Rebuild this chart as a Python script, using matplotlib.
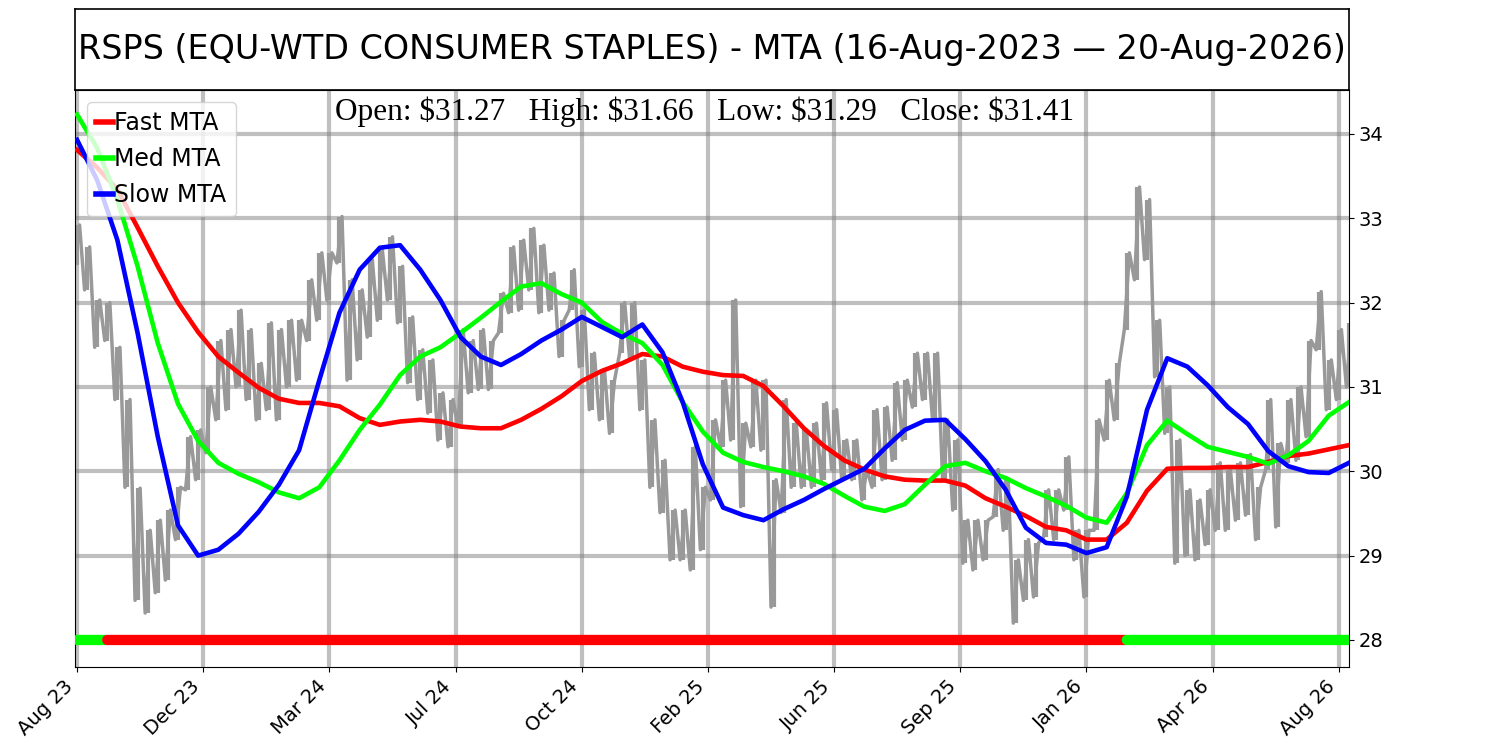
import numpy as np
import matplotlib.pyplot as plt

title = "RSPS (EQU-WTD CONSUMER STAPLES) - MTA (16-Aug-2023 \u2014 20-Aug-2026)"
ohlc_text = "Open: \\$31.27   High: \\$31.66   Low: \\$31.29   Close: \\$31.41"

n_bars = 757
tick_pos = [0, 75, 150, 225, 300, 375, 450, 525, 600, 675, 750]
tick_labels = ["Aug 23", "Dec 23", "Mar 24", "Jul 24", "Oct 24", "Feb 25",
               "Jun 25", "Sep 25", "Jan 26", "Apr 26", "Aug 26"]

# price range, one sample per 6 bars
price_step = 6
price_high = [32.92, 32.66, 32.03, 32.00, 31.47, 30.85, 29.80, 29.30, 29.42, 29.54,
              29.81, 30.41, 30.49, 31.00, 31.55, 31.68, 31.91, 31.68, 31.28, 31.76,
              31.68, 31.79, 31.79, 32.27, 32.59, 32.59, 33.02, 32.27, 32.15, 32.51,
              32.62, 32.78, 32.43, 31.83, 31.44, 31.32, 30.93, 30.85, 31.68, 31.55,
              31.68, 31.55, 32.11, 32.66, 32.74, 32.88, 32.68, 32.35, 31.79, 32.39,
              31.91, 31.40, 31.20, 31.08, 32.00, 32.00, 31.32, 30.61, 30.13, 29.54,
              29.54, 30.29, 29.81, 30.61, 31.08, 32.03, 30.57, 31.08, 31.08, 29.90,
              30.85, 30.57, 30.49, 30.57, 30.81, 30.73, 30.37, 30.37, 30.02, 30.73,
              30.76, 31.05, 31.08, 31.40, 31.40, 31.40, 30.61, 30.37, 29.42, 29.42,
              29.42, 30.02, 29.90, 28.95, 29.19, 29.15, 29.78, 29.78, 30.17, 29.30,
              29.30, 30.61, 31.08, 31.28, 32.59, 33.37, 33.22, 31.79, 31.00, 30.37,
              29.78, 29.66, 29.78, 30.10, 30.02, 30.10, 30.20, 29.81, 30.85, 30.33,
              30.85, 31.00, 31.55, 32.13, 31.32, 31.68, 31.76]
price_low = [32.45, 32.15, 31.47, 31.55, 30.85, 29.81, 28.47, 28.32, 28.56, 28.71,
             29.19, 29.78, 29.90, 30.22, 30.61, 30.73, 31.00, 30.85, 30.61, 30.73,
             30.61, 31.00, 31.08, 31.55, 31.79, 32.03, 32.47, 31.08, 31.32, 31.59,
             31.79, 32.03, 31.76, 31.05, 30.85, 30.69, 30.37, 30.29, 30.53, 30.93,
             30.97, 30.97, 31.64, 31.88, 31.91, 32.15, 31.88, 31.91, 31.36, 31.91,
             31.24, 30.73, 30.61, 30.45, 31.40, 31.32, 30.73, 29.81, 29.51, 28.95,
             28.95, 28.83, 29.07, 29.66, 30.29, 30.37, 29.58, 30.29, 30.25, 28.39,
             29.51, 29.81, 29.81, 29.81, 29.90, 30.02, 29.90, 29.90, 29.66, 29.81,
             29.90, 30.13, 30.37, 30.76, 30.85, 30.61, 29.90, 29.54, 28.91, 28.83,
             28.95, 29.46, 29.30, 28.20, 28.47, 28.51, 29.22, 29.19, 29.54, 28.95,
             28.51, 29.30, 30.37, 30.61, 31.68, 32.27, 32.51, 31.12, 30.45, 28.91,
             29.00, 28.95, 29.13, 29.30, 29.30, 29.42, 29.48, 29.19, 30.02, 29.34,
             30.10, 30.13, 30.41, 31.44, 30.73, 30.85, 31.00]

# MTA lines, one sample per 12 bars
mta_step = 12
fast_mta = [33.81, 33.60, 33.34, 32.89, 32.43, 32.00, 31.65, 31.36, 31.17, 30.99,
            30.86, 30.81, 30.81, 30.77, 30.63, 30.55, 30.59, 30.61, 30.59, 30.53,
            30.51, 30.51, 30.61, 30.74, 30.89, 31.07, 31.19, 31.28, 31.39, 31.36,
            31.24, 31.18, 31.14, 31.13, 31.01, 30.77, 30.51, 30.30, 30.13, 30.02,
            29.94, 29.90, 29.89, 29.89, 29.83, 29.68, 29.58, 29.47, 29.34, 29.30,
            29.19, 29.19, 29.39, 29.77, 30.03, 30.04, 30.04, 30.05, 30.05, 30.11,
            30.18, 30.21, 30.26, 30.31]
med_mta = [34.23, 33.83, 33.22, 32.43, 31.52, 30.80, 30.36, 30.10, 29.97, 29.87,
           29.75, 29.68, 29.81, 30.13, 30.49, 30.79, 31.14, 31.36, 31.47, 31.64,
           31.82, 32.01, 32.19, 32.23, 32.10, 32.00, 31.77, 31.63, 31.52, 31.26,
           30.82, 30.47, 30.22, 30.11, 30.05, 30.00, 29.94, 29.85, 29.71, 29.58,
           29.53, 29.61, 29.84, 30.06, 30.10, 30.00, 29.92, 29.80, 29.70, 29.59,
           29.45, 29.39, 29.74, 30.31, 30.60, 30.44, 30.29, 30.23, 30.17, 30.09,
           30.19, 30.36, 30.66, 30.82]
slow_mta = [33.93, 33.45, 32.74, 31.64, 30.41, 29.36, 29.00, 29.07, 29.26, 29.52,
            29.84, 30.25, 31.08, 31.88, 32.39, 32.65, 32.68, 32.39, 32.03, 31.59,
            31.36, 31.26, 31.39, 31.55, 31.68, 31.83, 31.71, 31.59, 31.74, 31.41,
            30.82, 30.08, 29.57, 29.48, 29.42, 29.55, 29.66, 29.79, 29.91, 30.03,
            30.27, 30.49, 30.60, 30.61, 30.38, 30.12, 29.78, 29.33, 29.15, 29.13,
            29.03, 29.10, 29.70, 30.73, 31.34, 31.24, 31.02, 30.76, 30.56, 30.24,
            30.06, 29.99, 29.98, 30.10]

# regime strip at the bottom
regime_start = [0, 18, 624]
regime_color = ["#00ff00", "#ff0000", "#00ff00"]
regime_level = 28.0

fig = plt.figure(figsize=(15, 7.5), dpi=100)

# title box
tax = fig.add_axes([0.05, 0.88, 0.8493, 0.108])
tax.set_xticks([])
tax.set_yticks([])
for s in tax.spines.values():
    s.set_linewidth(1.2)
tax.text(0.5, 0.5, title, ha="center", va="center", fontsize=24,
         transform=tax.transAxes)

ax = fig.add_axes([0.05, 0.1107, 0.8493, 0.7693])
ax.set_axisbelow(True)
ax.grid(True, color="gray", alpha=0.5, lw=3)

# price bars: high/low strokes joined into a jagged trace
px = np.arange(len(price_high)) * price_step
ax.vlines(px, price_low, price_high, color="#999999", lw=3, zorder=2)
xs = np.column_stack([px - 1.5, px + 1.5]).ravel()
ys = np.column_stack([price_low, price_high]).ravel()
ax.plot(xs, ys, color="#999999", lw=2.5, zorder=2)

mx = np.arange(len(fast_mta)) * mta_step
ax.plot(mx, fast_mta, color="#ff0000", lw=3.3, label="Fast MTA", zorder=3)
ax.plot(mx, med_mta, color="#00ff00", lw=3.3, label="Med MTA", zorder=3)
ax.plot(mx, slow_mta, color="#0000ff", lw=3.3, label="Slow MTA", zorder=3)

bounds = regime_start + [n_bars]
bar_colors = []
for c, a, b in zip(regime_color, bounds[:-1], bounds[1:]):
    bar_colors += [c] * (b - a)
ax.scatter(np.arange(n_bars), np.full(n_bars, regime_level), c=bar_colors,
           s=55, marker="o", lw=0, zorder=4)

ax.text(0.494, 0.948, ohlc_text, transform=ax.transAxes, ha="center",
        va="baseline", fontsize=22.5, family="Liberation Serif")

ax.set_xlim(-1.2, 756)
ax.set_ylim(27.68, 34.52)
ax.set_xticks(tick_pos)
ax.set_xticklabels(tick_labels, rotation=45, ha="right")
ax.yaxis.tick_right()
ax.set_yticks([28, 29, 30, 31, 32, 33, 34])
ax.tick_params(labelsize=14)

leg = ax.legend(loc="upper left", fontsize=17, handlelength=0.7,
                handletextpad=0.05)
for h in leg.get_lines():
    h.set_linewidth(4)

fig.savefig("out.png", dpi=100)
